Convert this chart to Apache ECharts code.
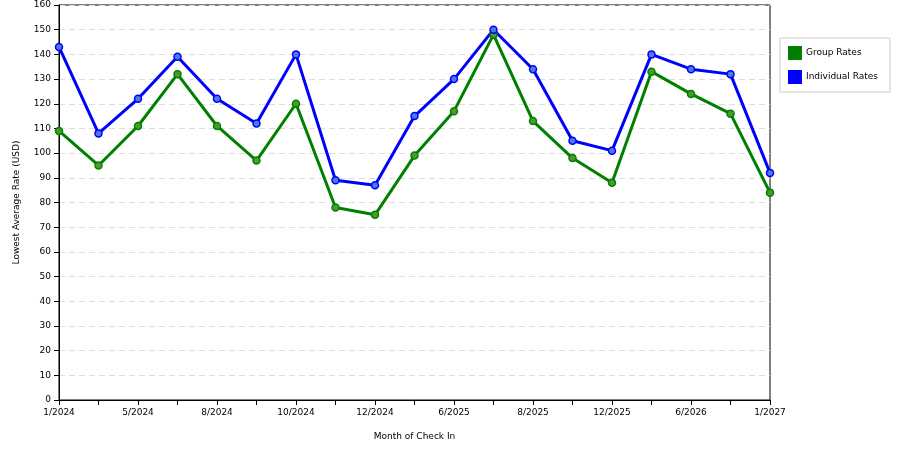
<!DOCTYPE html>
<html><head><meta charset="utf-8">
<script src="https://cdn.jsdelivr.net/npm/echarts@6/dist/echarts.min.js"></script>
<style>html,body{margin:0;padding:0;background:#fff}#c{width:900px;height:450px}</style>
</head><body><div id="c"></div>
<script>
const categories = ["1/2024","3/2024","5/2024","6/2024","8/2024","9/2024","10/2024","11/2024","12/2024","3/2025","6/2025","7/2025","8/2025","10/2025","12/2025","3/2026","6/2026","10/2026","1/2027"];
const groupRates = [109,95,111,132,111,97,120,78,75,99,117,148,113,98,88,133,124,116,84];
const individualRates = [143,108,122,139,122,112,140,89,87,115,130,150,134,105,101,140,134,132,92];
const yTicks = {min:0,max:160,interval:10};
const font = "DejaVu Sans";
const chart = echarts.init(document.getElementById('c'));
function ser(name,data,color,border){
  return {name,type:'line',data,symbol:'circle',symbolSize:7,
    lineStyle:{color,width:3},itemStyle:{color:border,borderColor:color,borderWidth:1.5},color};
}
chart.setOption({
  animation:false,
  grid:{left:59,right:130,top:5,bottom:50,containLabel:false,show:true,borderColor:'#000',borderWidth:1},
  legend:{right:10,top:38,orient:'vertical',itemWidth:12,itemHeight:12,itemGap:10,
    borderColor:'#ccc',borderWidth:1,padding:[8,12,8,8],icon:'rect',
    textStyle:{fontFamily:font,fontSize:9,color:'#000'},
    data:[{name:'Group Rates',itemStyle:{color:'#008000'}},{name:'Individual Rates',itemStyle:{color:'#0000ff'}}]},
  xAxis:{type:'category',data:categories,boundaryGap:false,name:'Month of Check In',nameLocation:'middle',nameGap:32,
    nameTextStyle:{fontFamily:font,fontSize:9,color:'#000'},
    axisLine:{lineStyle:{color:'#000'}},axisTick:{interval:0,lineStyle:{color:'#000'}},
    axisLabel:{interval:1,fontFamily:font,fontSize:9,color:'#000'},splitLine:{show:false}},
  yAxis:{type:'value',min:yTicks.min,max:yTicks.max,interval:yTicks.interval,name:'Lowest Average Rate (USD)',
    nameLocation:'middle',nameGap:38,nameTextStyle:{fontFamily:font,fontSize:9,color:'#000'},
    axisLine:{show:true,lineStyle:{color:'#000'}},axisTick:{show:true,lineStyle:{color:'#000'}},
    axisLabel:{fontFamily:font,fontSize:9,color:'#000'},
    splitLine:{lineStyle:{color:'#ddd',type:[6,4]}}},
  series:[ser('Group Rates',groupRates,'#008000','#4c9a2a'),ser('Individual Rates',individualRates,'#0000ff','#4a7be0')]
});
</script></body></html>
